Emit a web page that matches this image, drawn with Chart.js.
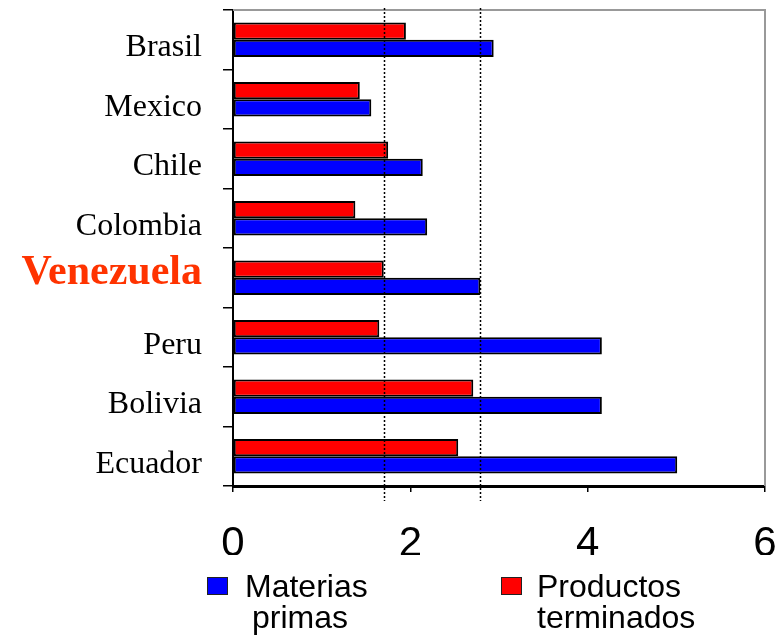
<!DOCTYPE html>
<html>
<head>
<meta charset="utf-8">
<script src="https://cdn.jsdelivr.net/npm/chart.js@4.4.0/dist/chart.umd.min.js"></script>
<style>
  html, body { margin: 0; padding: 0; background: #fff; }
  #wrap { position: relative; width: 777px; height: 635px; }
  .box { position: absolute; width: 19px; height: 16px; border: 1px solid #222; }
  .txt { position: absolute; font-family: 'Liberation Sans', Arial, sans-serif; font-size: 32px; line-height: 32px; color: #000; white-space: nowrap; }
</style>
</head>
<body>
<div id="wrap">
  <canvas id="exportChart" width="777" height="635"></canvas>
  <!-- leyenda -->
  <div class="box" style="left:207px;top:577px;background:#0000ff"></div>
  <div class="txt" style="left:245px;top:570px">Materias</div>
  <div class="txt" style="left:252px;top:601px">primas</div>
  <div class="box" style="left:501px;top:577px;background:#ff0000"></div>
  <div class="txt" style="left:537px;top:570px">Productos</div>
  <div class="txt" style="left:537px;top:601px">terminados</div>
</div>
<script>
    // Datos
    const paises = ['Brasil', 'Mexico', 'Chile', 'Colombia', 'Venezuela', 'Peru', 'Bolivia', 'Ecuador'];
    const materiasPrimas = [2.94, 1.56, 2.14, 2.19, 2.79, 4.16, 4.16, 5.01];
    const productosTerminados = [1.95, 1.43, 1.75, 1.38, 1.70, 1.65, 2.71, 2.54];
    const xTicks = [0, 2, 4, 6];
    const destacado = 'Venezuela';

    // Marco gris y lineas punteadas de referencia (valores de Venezuela)
    const marcoYLineas = {
        id: 'marcoYLineas',
        afterDatasetsDraw(chart) {
            const { ctx, chartArea: a, scales: { x } } = chart;
            ctx.save();
            ctx.strokeStyle = '#999';
            ctx.lineWidth = 2;
            ctx.beginPath();
            ctx.moveTo(a.left, a.top);
            ctx.lineTo(a.right, a.top);
            ctx.lineTo(a.right, a.bottom);
            ctx.stroke();

            const i = paises.indexOf(destacado);
            ctx.strokeStyle = '#000';
            ctx.lineWidth = 1.5;
            ctx.setLineDash([2, 2]);
            [productosTerminados[i], materiasPrimas[i]].forEach(v => {
                const px = Math.round(x.getPixelForValue(v)) + 0.5;
                ctx.beginPath();
                ctx.moveTo(px, a.top - 2);
                ctx.lineTo(px, a.bottom + 15);
                ctx.stroke();
            });
            ctx.restore();
        }
    };

    const ctx = document.getElementById('exportChart').getContext('2d');
    new Chart(ctx, {
        type: 'bar',
        data: {
            labels: paises,
            datasets: [
                {
                    label: 'Productos terminados',
                    data: productosTerminados,
                    backgroundColor: '#ff0000',
                    borderColor: '#000',
                    borderWidth: 2,
                    borderSkipped: false,
                    categoryPercentage: 0.58,
                    barPercentage: 1
                },
                {
                    label: 'Materias primas',
                    data: materiasPrimas,
                    backgroundColor: '#0000ff',
                    borderColor: '#000',
                    borderWidth: 2,
                    borderSkipped: false,
                    categoryPercentage: 0.58,
                    barPercentage: 1
                }
            ]
        },
        options: {
            indexAxis: 'y',
            responsive: false,
            animation: false,
            layout: {
                padding: { top: 10, right: 12, bottom: 80, left: 0 }
            },
            plugins: {
                legend: { display: false },
                tooltip: { enabled: false }
            },
            scales: {
                x: {
                    min: 0,
                    max: 6,
                    afterBuildTicks: s => { s.ticks = xTicks.map(v => ({ value: v })); },
                    afterFit: s => {
                        s.height = 69;
                        s.paddingLeft = 0;
                        s.paddingRight = 0;
                    },
                    ticks: {
                        color: '#000',
                        padding: 27,
                        font: { family: "'Liberation Sans', Arial, sans-serif", size: 42 }
                    },
                    grid: {
                        drawOnChartArea: false,
                        drawTicks: true,
                        tickLength: 6,
                        color: '#000',
                        lineWidth: 1.5
                    },
                    border: { color: '#000', width: 3 }
                },
                y: {
                    afterFit: s => {
                        s.width = 233;
                        s.paddingTop = 0;
                        s.paddingBottom = 0;
                    },
                    ticks: {
                        // Venezuela va un poco mas arriba: segunda linea vacia la sube
                        callback: (v, i) => paises[i] === destacado ? [paises[i], ''] : paises[i],
                        color: c => paises[c.index] === destacado ? '#ff3300' : '#000',
                        font: c => paises[c.index] === destacado
                            ? { family: "'Liberation Serif', 'Times New Roman', serif", size: 42, weight: 'bold', lineHeight: '26px' }
                            : { family: "'Liberation Serif', 'Times New Roman', serif", size: 32 },
                        padding: 21,
                        labelOffset: 8
                    },
                    grid: {
                        offset: true,
                        drawOnChartArea: false,
                        drawTicks: true,
                        tickLength: 10,
                        color: '#000',
                        lineWidth: 1.5
                    },
                    border: { color: '#000', width: 2 }
                }
            }
        },
        plugins: [marcoYLineas]
    });
</script>
</body>
</html>
